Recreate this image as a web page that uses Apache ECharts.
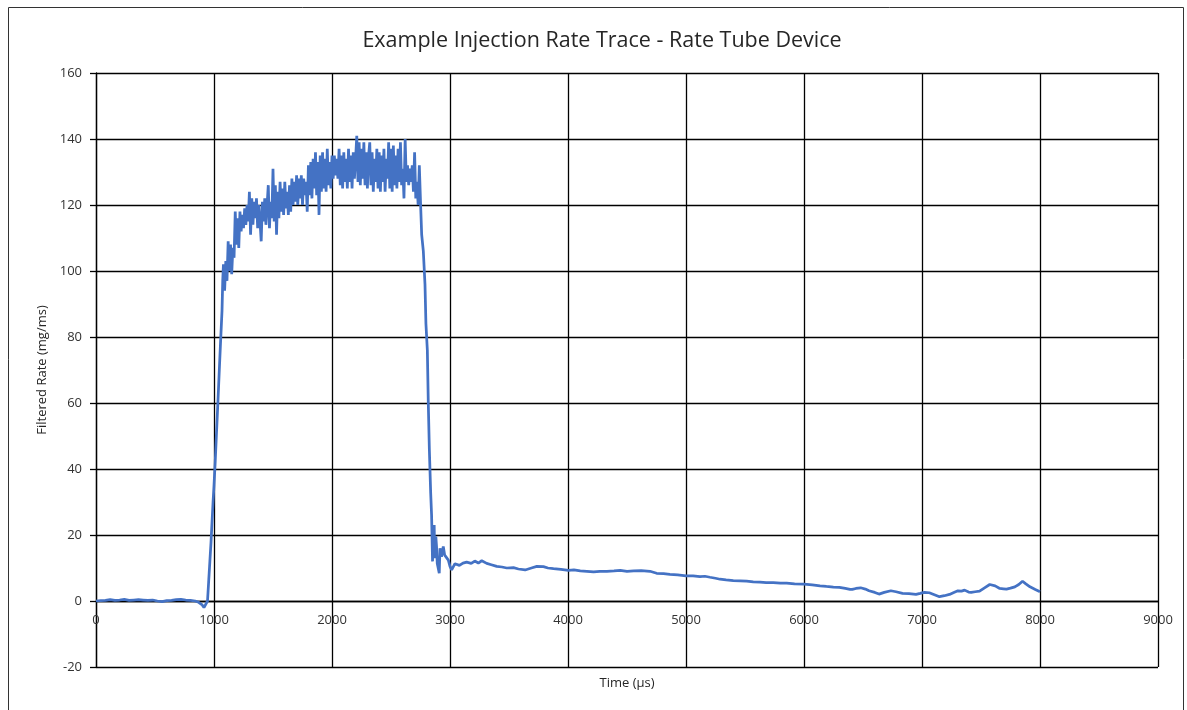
<!DOCTYPE html>
<html>
<head>
<meta charset="utf-8">
<title>Example Injection Rate Trace</title>
<script src="https://cdn.jsdelivr.net/npm/echarts@6/dist/echarts.min.js"></script>
<style>
  html, body { margin: 0; padding: 0; background: #fff; }
  #chart { width: 1187px; height: 710px; }
</style>
</head>
<body>
<div id="chart"></div>
<script>
// [time (µs), filtered rate (mg/ms)]
const baselineTrace = [
  [0, 0], [40, 0.1], [80, 0.2], [120, 0.4], [160, 0.2], [200, 0.3], [240, 0.5],
  [280, 0.2], [320, 0.3], [360, 0.4], [400, 0.3], [440, 0.2], [480, 0.3], [520, 0],
  [560, -0.2], [600, 0.1], [640, 0.2], [680, 0.4], [720, 0.5], [760, 0.3], [800, 0.2],
  [840, 0], [870, -0.4], [900, -1.2], [915, -2], [930, -1.5]
];

const riseTrace = [
  [945, 0], [955, 6], [965, 12], [975, 18], [992, 30], [1000, 35], [1010, 42],
  [1020, 50], [1034, 61], [1045, 70], [1055, 78], [1068, 88], [1074, 97]
];

const plateauTrace = [
  [1080, 102], [1090, 94], [1100, 103], [1110, 97], [1120, 109], [1130, 100], [1140, 108],
  [1150, 99], [1160, 107], [1170, 104], [1180, 118], [1190, 108], [1200, 116], [1210, 107],
  [1220, 118], [1230, 112], [1240, 117], [1250, 113], [1260, 119], [1270, 114], [1280, 120],
  [1290, 115], [1300, 124], [1310, 111], [1320, 122], [1330, 114], [1340, 121], [1350, 116],
  [1360, 122], [1370, 113], [1380, 120], [1390, 115], [1400, 109], [1410, 121], [1420, 115],
  [1430, 122], [1440, 114], [1450, 120], [1460, 126], [1470, 113], [1480, 121], [1490, 116],
  [1500, 131], [1510, 115], [1520, 126], [1530, 111], [1540, 124], [1550, 116], [1560, 127],
  [1570, 118], [1580, 125], [1590, 117], [1600, 127], [1610, 119], [1620, 124], [1630, 117],
  [1640, 126], [1650, 118], [1660, 128], [1670, 120], [1680, 127], [1690, 121], [1700, 129],
  [1710, 120], [1720, 128], [1730, 122], [1740, 129], [1750, 120], [1760, 128], [1770, 123],
  [1780, 127], [1790, 118], [1800, 132], [1810, 123], [1820, 133], [1830, 122], [1840, 134],
  [1850, 125], [1860, 136], [1870, 123], [1880, 133], [1890, 117], [1900, 135], [1910, 124],
  [1920, 136], [1930, 125], [1940, 134], [1950, 124], [1960, 137], [1970, 126], [1980, 133],
  [1990, 125], [2000, 135], [2010, 128], [2020, 135], [2030, 129], [2040, 134], [2050, 128],
  [2060, 137], [2070, 126], [2080, 135], [2090, 125], [2100, 136], [2110, 127], [2120, 134],
  [2130, 125], [2140, 137], [2150, 127], [2160, 135], [2170, 125], [2180, 136], [2190, 128],
  [2200, 134], [2210, 141], [2220, 127], [2230, 139], [2240, 126], [2250, 137], [2260, 128],
  [2270, 139], [2280, 126], [2290, 136], [2300, 125], [2310, 135], [2320, 139], [2330, 126],
  [2340, 136], [2350, 124], [2360, 134], [2370, 127], [2380, 137], [2390, 125], [2400, 136],
  [2410, 124], [2420, 135], [2430, 127], [2440, 137], [2450, 124], [2460, 134], [2470, 128],
  [2480, 139], [2490, 125], [2500, 137], [2510, 124], [2520, 138], [2530, 126], [2540, 135],
  [2550, 125], [2560, 137], [2570, 127], [2580, 139], [2590, 126], [2600, 131], [2610, 122],
  [2620, 140], [2630, 127], [2640, 132], [2650, 126], [2660, 131], [2670, 127], [2680, 132],
  [2690, 124], [2700, 136], [2710, 122], [2720, 127], [2730, 120], [2740, 132]
];

const fallTrace = [
  [2751, 120], [2760, 111], [2774, 106], [2788, 96], [2796, 84], [2808, 76], [2816, 60],
  [2825, 46], [2836, 33], [2844, 26], [2852, 12], [2858, 22.5], [2862, 15.5], [2866, 23],
  [2870, 13], [2880, 19.5], [2886, 16.5], [2892, 11.4], [2909, 8.4], [2915, 16], [2928, 13.4],
  [2943, 16.5], [2955, 13.9], [2970, 13.9], [2986, 12.4]
];

const tailTrace = [
  [3000, 10.5], [3014, 9.4], [3042, 11.3], [3080, 10.8], [3110, 11.5], [3141, 11.8],
  [3180, 11.4], [3210, 12.1], [3240, 11.5], [3269, 12.2], [3311, 11.4], [3350, 11.0],
  [3396, 10.5], [3440, 10.3], [3481, 10.0], [3538, 10.1], [3580, 9.7], [3637, 9.4],
  [3690, 10.0], [3736, 10.5], [3792, 10.4], [3830, 10.0], [3877, 9.8], [3940, 9.6],
  [4004, 9.3], [4050, 9.4], [4104, 9.1], [4160, 9.0], [4217, 8.8], [4270, 9.0],
  [4330, 9.0], [4390, 9.1], [4443, 9.3], [4500, 9.0], [4557, 9.1], [4620, 9.2],
  [4695, 9.0], [4751, 8.4], [4810, 8.3], [4864, 8.1], [4930, 7.9], [5000, 7.6],
  [5060, 7.6], [5119, 7.4], [5160, 7.5], [5203, 7.2], [5250, 6.9], [5288, 6.6],
  [5340, 6.4], [5401, 6.2], [5460, 6.1], [5514, 6.0], [5570, 5.8], [5627, 5.7],
  [5680, 5.6], [5740, 5.6], [5800, 5.4], [5853, 5.4], [5920, 5.2], [6000, 5.1],
  [6070, 4.9], [6136, 4.6], [6190, 4.4], [6249, 4.2], [6300, 4.1], [6350, 3.8],
  [6390, 3.5], [6409, 3.5], [6440, 3.8], [6480, 4.0], [6520, 3.6], [6551, 3.1],
  [6600, 2.6], [6636, 2.1], [6680, 2.6], [6736, 3.1], [6780, 2.8], [6835, 2.3],
  [6890, 2.2], [6949, 2.0], [6985, 2.3], [7020, 2.6], [7062, 2.5], [7105, 1.9],
  [7148, 1.3], [7190, 1.6], [7233, 2.0], [7270, 2.6], [7304, 3.1], [7335, 3.0],
  [7361, 3.3], [7395, 2.7], [7417, 2.6], [7450, 2.8], [7488, 3.0], [7530, 4.0],
  [7574, 5.0], [7620, 4.6], [7659, 3.8], [7690, 3.7], [7716, 3.6], [7750, 3.9],
  [7787, 4.3], [7820, 5.0], [7852, 6.0], [7880, 5.2], [7915, 4.3], [7960, 3.5],
  [8000, 2.8]
];

const rateTrace = baselineTrace.concat(riseTrace, plateauTrace, fallTrace, tailTrace);

const chartTitle = 'Example Injection Rate Trace - Rate Tube Device';
const xName = 'Time (µs)';
const yName = 'Filtered Rate (mg/ms)';

const font = '"Open Sans", "Noto Sans", sans-serif';
const gridLine = { color: '#000', width: 1.3 };

const chart = echarts.init(document.getElementById('chart'));

chart.setOption({
  animation: false,
  title: {
    text: chartTitle,
    left: 597,
    top: 25,
    textAlign: 'center',
    textStyle: { fontFamily: font, fontSize: 21.5, fontWeight: 'normal', color: '#262626' }
  },
  graphic: [{
    type: 'rect',
    silent: true,
    shape: { x: 8.5, y: 7.5, width: 1175, height: 720 },
    style: { fill: 'none', stroke: '#333', lineWidth: 1 }
  }],
  grid: {
    left: 96, right: 29, top: 73, bottom: 43,
    containLabel: false,
    outerBoundsMode: 'none'
  },
  xAxis: {
    type: 'value',
    min: 0,
    max: 9000,
    interval: 1000,
    position: 'bottom',
    // sits on the y = 0 line (66 px above the plot bottom)
    offset: -66,
    name: xName,
    nameLocation: 'middle',
    nameGap: 76,
    nameTextStyle: { fontFamily: font, fontSize: 13, color: '#262626' },
    axisLine: { show: true, onZero: false, lineStyle: gridLine },
    axisTick: { show: false },
    axisLabel: {
      fontFamily: font, fontSize: 13, color: '#333', margin: 13,
      formatter: (v) => String(v)
    },
    splitLine: { show: true, lineStyle: gridLine }
  },
  yAxis: {
    type: 'value',
    min: -20,
    max: 160,
    interval: 20,
    name: yName,
    nameLocation: 'middle',
    nameGap: 47,
    nameTextStyle: { fontFamily: font, fontSize: 13, color: '#262626' },
    axisLine: { show: true, onZero: false, lineStyle: gridLine },
    axisTick: { show: true, length: 6, lineStyle: gridLine },
    axisLabel: {
      fontFamily: font, fontSize: 13, color: '#333', margin: 14,
      formatter: (v) => String(v)
    },
    splitLine: { show: true, lineStyle: gridLine }
  },
  series: [{
    name: 'Filtered Rate',
    type: 'line',
    data: rateTrace,
    showSymbol: false,
    symbol: 'none',
    lineStyle: { color: '#4472C4', width: 2.75 },
    itemStyle: { color: '#4472C4' },
    z: 3
  }]
});

window.addEventListener('resize', () => chart.resize());
</script>
</body>
</html>
